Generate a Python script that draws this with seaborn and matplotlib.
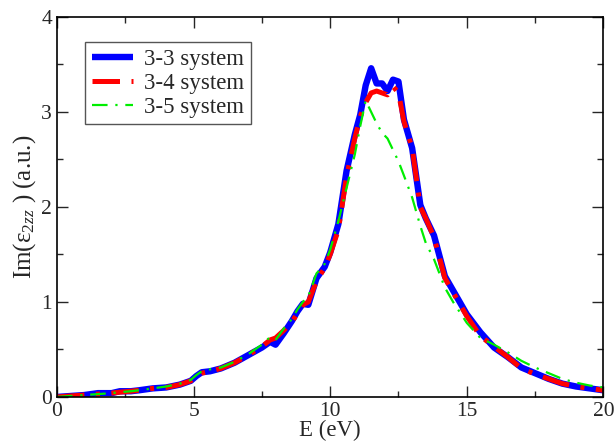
import numpy as np
import pandas as pd
import matplotlib
matplotlib.use("Agg")
import matplotlib.pyplot as plt
from matplotlib.ticker import MultipleLocator
import seaborn as sns

# energy grid (eV) shared by the three spectra
energy = [0, 0.5, 1, 1.5, 2, 2.3, 2.7, 3, 3.5, 4, 4.5, 4.9, 5.1, 5.3, 5.6, 6, 6.5,
          7, 7.5, 7.8, 8.0, 8.3, 8.6, 8.8, 9.0, 9.2, 9.5, 9.8, 10, 10.3, 10.6, 10.9,
          11.1, 11.3, 11.5, 11.7, 11.9, 12.1, 12.3, 12.5, 12.7, 13.0, 13.3, 13.5,
          13.8, 14.2, 14.5, 15, 15.5, 16, 16.5, 17, 17.5, 18, 18.5, 19, 19.5, 20]

sys33 = [0.0, 0.01, 0.02, 0.04, 0.04, 0.06, 0.06, 0.07, 0.09, 0.10, 0.13, 0.17, 0.22,
         0.26, 0.27, 0.30, 0.36, 0.44, 0.52, 0.58, 0.55, 0.67, 0.80, 0.90, 0.98, 0.97,
         1.25, 1.37, 1.52, 1.82, 2.38, 2.76, 2.97, 3.28, 3.46, 3.30, 3.30, 3.22, 3.34,
         3.32, 2.92, 2.62, 2.02, 1.88, 1.70, 1.27, 1.12, 0.87, 0.68, 0.52, 0.42, 0.31,
         0.25, 0.19, 0.14, 0.11, 0.09, 0.07]

sys34 = [0.0, 0.01, 0.02, 0.03, 0.04, 0.05, 0.06, 0.07, 0.09, 0.10, 0.13, 0.17, 0.22,
         0.25, 0.27, 0.30, 0.36, 0.44, 0.53, 0.60, 0.62, 0.70, 0.79, 0.88, 0.97, 1.00,
         1.22, 1.36, 1.50, 1.76, 2.32, 2.72, 2.95, 3.10, 3.20, 3.22, 3.20, 3.18, 3.27,
         3.20, 2.90, 2.62, 2.00, 1.88, 1.68, 1.25, 1.10, 0.85, 0.64, 0.53, 0.42, 0.30,
         0.24, 0.19, 0.14, 0.11, 0.09, 0.07]

sys35 = [0.0, 0.01, 0.02, 0.03, 0.04, 0.05, 0.06, 0.07, 0.09, 0.11, 0.14, 0.18, 0.23,
         0.27, 0.29, 0.31, 0.37, 0.45, 0.55, 0.63, 0.60, 0.72, 0.82, 0.92, 1.00, 1.06,
         1.30, 1.40, 1.55, 1.85, 2.20, 2.55, 2.85, 3.12, 3.00, 2.88, 2.78, 2.72, 2.60,
         2.48, 2.33, 2.10, 1.80, 1.62, 1.45, 1.15, 1.00, 0.78, 0.62, 0.55, 0.47, 0.38,
         0.31, 0.25, 0.19, 0.15, 0.12, 0.10]

labels = ["3-3 system", "3-4 system", "3-5 system"]

sns.set_style("ticks")
plt.rcParams["font.family"] = ["Liberation Serif", "DejaVu Serif"]
plt.rcParams["mathtext.fontset"] = "custom"
plt.rcParams["mathtext.rm"] = "Liberation Serif"
plt.rcParams["mathtext.it"] = "Liberation Serif:italic"

fig = plt.figure(figsize=(6.16, 4.46), dpi=100)
ax = fig.add_axes([0.0925, 0.11, 0.887, 0.852])

sns.lineplot(x=energy, y=sys33, ax=ax, color="#0000ff", lw=4.6,
             label=labels[0], solid_capstyle="butt")
sns.lineplot(x=energy, y=sys34, ax=ax, color="#ff0000", lw=3.6,
             linestyle=(0, (5.5, 2.3, 0.8, 2.3)), label=labels[1])
sns.lineplot(x=energy, y=sys35, ax=ax, color="#00ee00", lw=1.6,
             linestyle=(0, (7, 3.5, 1, 3.5)), label=labels[2])

ax.set_xlim(0, 20)
ax.set_ylim(0, 4)
ax.xaxis.set_major_locator(MultipleLocator(5))
ax.xaxis.set_minor_locator(MultipleLocator(2.5))
ax.yaxis.set_major_locator(MultipleLocator(1))
ax.yaxis.set_minor_locator(MultipleLocator(0.5))
ax.tick_params(which="both", direction="in", top=True, right=True, labelsize=15.5)
ax.tick_params(which="major", length=8, width=1)
ax.tick_params(which="minor", length=4, width=1)
for s in ax.spines.values():
    s.set_linewidth(1.2)
    s.set_color("black")

ax.set_xlabel("E (eV)", fontsize=16.5, labelpad=-1)
ax.set_ylabel(r"Im(ε$_{2zz}$ ) (a.u.)", fontsize=18, labelpad=2)

leg = ax.legend(loc="upper left", bbox_to_anchor=(0.051, 0.934), fontsize=16.5,
                handlelength=1.8, fancybox=False, framealpha=1,
                borderpad=0.3, borderaxespad=0, labelspacing=0.12,
                handletextpad=0.5)
leg.get_frame().set_edgecolor("#555555")
leg.get_frame().set_linewidth(1.0)

fig.savefig("out.png", dpi=100)
